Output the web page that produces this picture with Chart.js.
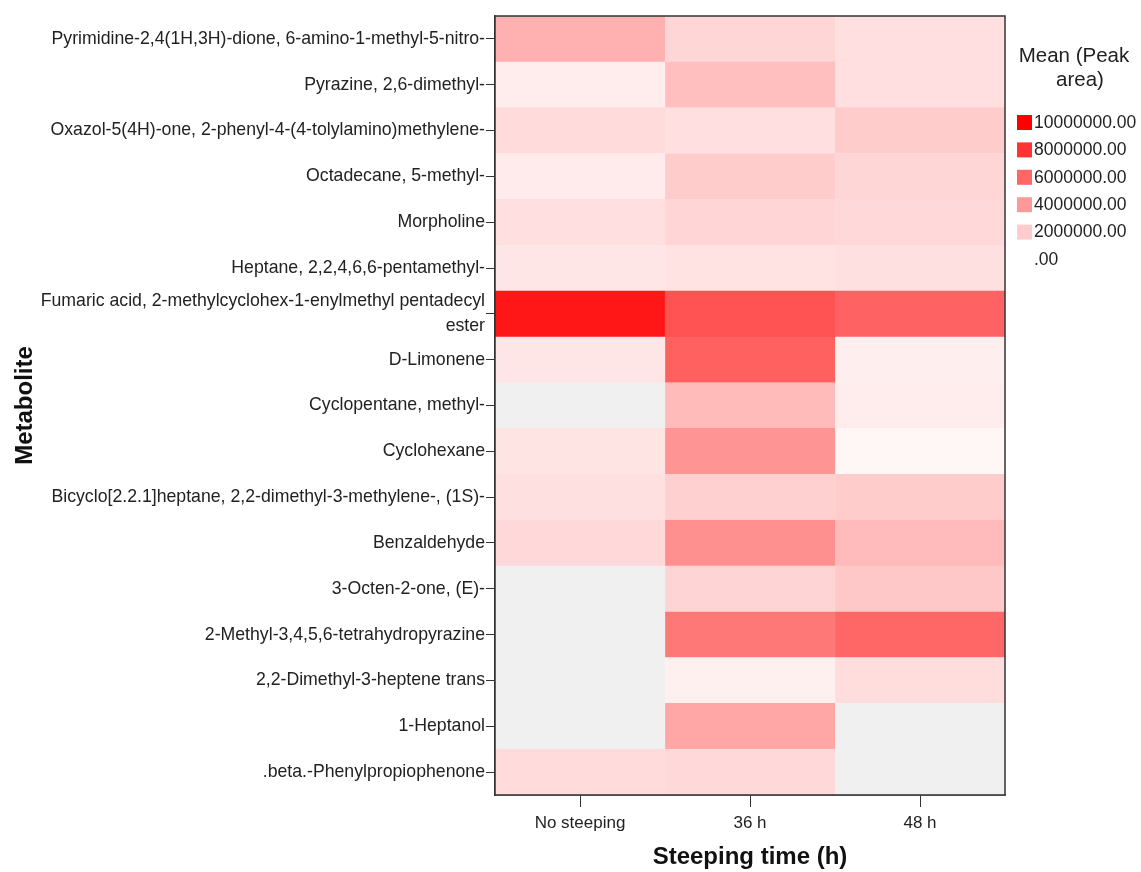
<!DOCTYPE html>
<html>
<head>
<meta charset="utf-8">
<script src="https://cdn.jsdelivr.net/npm/chart.js@4"></script>
<style>
  body { margin: 0; background: #fff; }
  #wrap { width: 1141px; height: 872px; position: relative; }
</style>
</head>
<body>
<div id="wrap"><canvas id="heat"></canvas></div>
<script>
const metabolites = [
  'Pyrimidine-2,4(1H,3H)-dione, 6-amino-1-methyl-5-nitro-',
  'Pyrazine, 2,6-dimethyl-',
  'Oxazol-5(4H)-one, 2-phenyl-4-(4-tolylamino)methylene-',
  'Octadecane, 5-methyl-',
  'Morpholine',
  'Heptane, 2,2,4,6,6-pentamethyl-',
  ['Fumaric acid, 2-methylcyclohex-1-enylmethyl pentadecyl', 'ester'],
  'D-Limonene',
  'Cyclopentane, methyl-',
  'Cyclohexane',
  'Bicyclo[2.2.1]heptane, 2,2-dimethyl-3-methylene-, (1S)-',
  'Benzaldehyde',
  '3-Octen-2-one, (E)-',
  '2-Methyl-3,4,5,6-tetrahydropyrazine',
  '2,2-Dimethyl-3-heptene trans',
  '1-Heptanol',
  '.beta.-Phenylpropiophenone'
];
const steepingTimes = ['No steeping', '36 h', '48 h'];

// mean peak area, null = not detected (grey cell)
const noSteeping = [3100000, 700000, 1400000, 800000, 1250000, 1000000, 9100000, 1000000, null, 1050000, 1200000, 1500000, null, null, null, null, 1400000];
const h36 = [1600000, 2500000, 1250000, 2000000, 1650000, 1100000, 6800000, 6200000, 2700000, 4200000, 1850000, 4350000, 1700000, 5300000, 600000, 3500000, 1500000];
const h48 = [1250000, 1250000, 2000000, 1600000, 1500000, 1200000, 6150000, 670000, 700000, 350000, 2000000, 2650000, 2150000, 6000000, 1350000, null, null];

const legendValues = [10000000, 8000000, 6000000, 4000000, 2000000, 0];
const legendLabels = ['10000000.00', '8000000.00', '6000000.00', '4000000.00', '2000000.00', '.00'];
const maxValue = 10000000;

const FONT = "'Liberation Sans', Arial, sans-serif";

function cellColor(v) {
  if (v === null) return '#f0f0f0';
  const g = Math.round(255 * (1 - Math.min(v, maxValue) / maxValue));
  return 'rgb(255,' + g + ',' + g + ')';
}

const columns = [noSteeping, h36, h48];

const frame = {
  id: 'frame',
  afterDatasetsDraw(chart) {
    const a = chart.chartArea, ctx = chart.ctx;
    ctx.save();
    ctx.strokeStyle = '#333';
    ctx.lineWidth = 1.5;
    ctx.strokeRect(a.left, a.top, a.right - a.left, a.bottom - a.top);
    ctx.restore();
  }
};

const colourLegend = {
  id: 'colourLegend',
  afterDraw(chart) {
    const ctx = chart.ctx;
    ctx.save();
    ctx.fillStyle = '#222';
    ctx.font = '20.5px ' + FONT;
    ctx.textAlign = 'center';
    ctx.textBaseline = 'middle';
    ctx.fillText('Mean (Peak', 1074, 56);
    ctx.fillText('area)', 1080, 80);
    ctx.font = '17.5px ' + FONT;
    ctx.textAlign = 'left';
    legendValues.forEach((v, i) => {
      const y = 122 + i * 27.4;
      ctx.fillStyle = cellColor(v);
      ctx.fillRect(1017, y - 7, 15, 15);
      ctx.fillStyle = '#222';
      ctx.fillText(legendLabels[i], 1034, y + 1);
    });
    ctx.restore();
  }
};

new Chart(document.getElementById('heat'), {
  type: 'bar',
  data: {
    labels: metabolites,
    datasets: columns.map((col, c) => ({
      label: steepingTimes[c],
      data: metabolites.map(() => 1),
      backgroundColor: col.map(cellColor),
      borderColor: col.map(cellColor),
      borderWidth: 0.5,
      borderSkipped: false,
      categoryPercentage: 1,
      barPercentage: 1
    }))
  },
  options: {
    indexAxis: 'y',
    responsive: true,
    maintainAspectRatio: false,
    animation: false,
    layout: { padding: { left: 0, right: 136, top: 16, bottom: 0 } },
    plugins: { legend: { display: false }, tooltip: { enabled: false } },
    scales: {
      x: {
        type: 'linear',
        stacked: true,
        min: 0,
        max: 3,
        afterBuildTicks: axis => { axis.ticks = [0.5, 1.5, 2.5].map(v => ({ value: v })); },
        afterFit: scale => { scale.height = 77; },
        ticks: {
          callback: (v, i) => steepingTimes[i],
          color: '#222',
          font: { family: FONT, size: 17 },
          padding: 6,
          maxRotation: 0
        },
        grid: { drawOnChartArea: false, drawTicks: true, tickLength: 12, color: '#333' },
        border: { display: true, color: '#333', width: 1.5 },
        title: {
          display: true,
          text: 'Steeping time (h)',
          color: '#111',
          font: { family: FONT, size: 24, weight: 'bold' },
          padding: { top: 0, bottom: 0 }
        }
      },
      y: {
        type: 'category',
        stacked: true,
        offset: true,
        afterFit: scale => { scale.width = 495; },
        ticks: {
          color: '#222',
          font: { family: FONT, size: 17.7, lineHeight: 1.4 },
          padding: 1,
          autoSkip: false
        },
        grid: { offset: false, drawOnChartArea: false, drawTicks: true, tickLength: 9, color: '#333' },
        border: { display: true, color: '#333', width: 1.5 },
        title: {
          display: true,
          text: 'Metabolite',
          color: '#111',
          font: { family: FONT, size: 24, weight: 'bold' },
          padding: { top: 11, bottom: 0 }
        }
      }
    }
  },
  plugins: [frame, colourLegend]
});
</script>
</body>
</html>
